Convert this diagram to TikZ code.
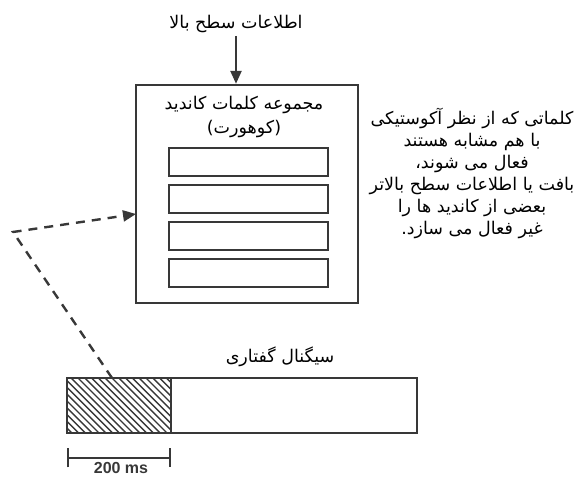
\documentclass[tikz,border=0pt]{standalone}
\usepackage{fontspec}
\setsansfont{Liberation Sans}
\newfontfamily\farsi[Script=Arabic]{DejaVu Sans}
\TeXXeTstate=1
\usetikzlibrary{arrows.meta}
\definecolor{ink}{gray}{0.22}
\newcommand{\slot}[4]{ \draw[ink, line width=2.2pt] ( #1 , #2 ) rectangle ( #3 , #4 );}
\newcommand{\fa}[1]{\beginR #1\endR}

\begin{document}
\begin{tikzpicture}[x=1pt, y=-1pt,
    txt/.style={font=\farsi\fontsize{17.5}{22}\selectfont, text=black, align=center, inner sep=0pt},
    frame/.style={draw=ink, line width=2.4pt, inner sep=0pt},
    tip/.style={-{Triangle[length=13pt,width=11pt]}}]
        \useasboundingbox (0,0) rectangle (582,478);

        % top-down input
        \node[txt] (toplbl) at (236,24) {\fa{اطلاعات سطح بالا}};

        % cohort box
        \node[frame, minimum width=222pt, minimum height=218pt] (cand) at (247,194) {};
        \node[txt] (candttl) at (244,105) {\fa{مجموعه کلمات کاندید}};
        \node[txt] (cohort) at (244,129) {\fa{(کوهورت)}};
        \foreach \y in {148,185,222,259}
            {\slot{169}{\y}{328}{\y+28}}

        \draw[ink, line width=2.4pt, tip, shorten <=3pt] (toplbl.south) -- (toplbl.south |- cand.north);

        % side note
        \node[txt] (note) at (472,173) {\fa{کلماتی که از نظر آکوستیکی}\\
            \fa{با هم مشابه هستند}\\
            \fa{فعال می شوند،}\\
            \fa{بافت یا اطلاعات سطح بالاتر}\\
            \fa{بعضی از کاندید ها را}\\
            \fa{غیر فعال می سازد.}};

        % speech signal
        \node[frame, minimum width=350pt, minimum height=55pt] (signal) at (242,405.5) {};
        \node[txt] (siglbl) at (280,357) {\fa{سیگنال گفتاری}};
        \begin{scope}
            \clip (67,378) rectangle (171,433);
            \foreach \k in {0,...,24}
                \draw[ink, line width=1.4pt] (10+\k*6.8,378) -- ++(56,56);
        \end{scope}
        \draw[ink, line width=2.4pt] (171,378) -- (171,433);

        % dashed feed
        \coordinate (sigin) at (112,378);
        \coordinate (bend) at (13,232);
        \coordinate (hit) at (136,214);
        \draw[ink, line width=2.4pt, dash pattern=on 9pt off 7pt, tip] (sigin) -- (bend) -- (hit);

        % time scale
        \coordinate (sbl) at (67,458);
        \coordinate (sbr) at (171,458);
        \draw[ink, line width=2pt, {Bar[width=19pt]}-{Bar[width=19pt]}] (sbl) -- (sbr);
        \node[font=\sffamily\bfseries\fontsize{16}{16}\selectfont, text=ink, anchor=base, inner sep=0pt] (ms) at (121,474) {200 ms};
\end{tikzpicture}
\end{document}
